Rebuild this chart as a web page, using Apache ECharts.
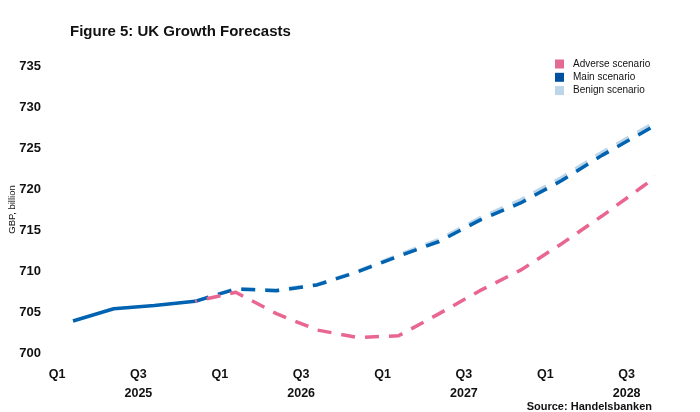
<!DOCTYPE html>
<html>
<head>
<meta charset="utf-8">
<script src="https://cdn.jsdelivr.net/npm/echarts@6/dist/echarts.min.js"></script>
<style>
  html, body { margin: 0; padding: 0; background: #fff; }
  #chart { width: 700px; height: 412px; }
</style>
</head>
<body>
<div id="chart"></div>
<script>
// quarters Q1 2025 .. Q4 2028
var quarters = ['Q1','Q2','Q3','Q4','Q1','Q2','Q3','Q4','Q1','Q2','Q3','Q4','Q1','Q2','Q3','Q4'];
var years    = ['2025','2025','2025','2025','2026','2026','2026','2026','2027','2027','2027','2027','2028','2028','2028','2028'];

// GBP billion
var actual  = [703.9, 705.4, 705.8, 706.3];
var adverse = [null, null, null, 706.3, 707.4, 704.8, 702.8, 701.9, 702.1, 704.8, 707.6, 710.1, 713.3, 716.7, 720.3, 723.9];
var main    = [null, null, null, 706.3, 707.8, 707.6, 708.3, 709.9, 711.8, 713.6, 716.2, 718.3, 721.0, 724.1, 726.9, 729.7];
var benign  = [null, null, null, 706.3, 707.9, 707.7, 708.4, 710.0, 712.0, 713.9, 716.5, 718.7, 721.4, 724.5, 727.3, 730.2];

var yTicks = [700, 705, 710, 715, 720, 725, 730, 735];

function pairs(arr) {
    var out = [];
    arr.forEach(function (v, i) { if (v != null) out.push([i, v]); });
    return out;
}

var pink = '#E8668F', blue = '#0063B1', light = '#BCD5E8';
var font = 'Liberation Sans, Arial, sans-serif';

var myChart = echarts.init(document.getElementById('chart'));

var option = {
    backgroundColor: '#fff',
    animation: false,
    title: [{
        text: 'Figure 5: UK Growth Forecasts',
        left: 70, top: 24, padding: 0,
        textStyle: { fontFamily: font, fontSize: 15, fontWeight: 'bold', color: '#111' }
    }, {
        text: 'Source: Handelsbanken',
        right: 48, top: 401, padding: 0,
        textStyle: { fontFamily: font, fontSize: 11, fontWeight: 'bold', color: '#111' }
    }],
    legend: {
        orient: 'vertical',
        left: 555, top: 59, padding: 0,
        itemWidth: 9, itemHeight: 9, itemGap: 3.3,
        icon: 'rect',
        textStyle: { fontFamily: font, fontSize: 10, color: '#111', padding: [0, 0, 0, 4] },
        data: [
            { name: 'Adverse scenario', itemStyle: { color: '#E36A93' } },
            { name: 'Main scenario', itemStyle: { color: '#0050A0' } },
            { name: 'Benign scenario', itemStyle: { color: light } }
        ]
    },
    grid: { left: 73, right: 48, top: 66, bottom: 59, outerBoundsMode: 'none', containLabel: false },
    xAxis: {
        type: 'value',
        min: 0, max: 14.23, interval: 1,
        axisLine: { show: false },
        axisTick: { show: false },
        splitLine: { show: false },
        axisLabel: {
            margin: 12,
            padding: [0, 32, 0, 0],
            showMaxLabel: false,
            formatter: function (v) {
                if (v !== Math.round(v)) return '';
                var q = quarters[v];
                if (q === 'Q1') return '{q|Q1}';
                if (q === 'Q3') return '{q|Q3}\n{y|' + years[v] + '}';
                return '';
            },
            rich: {
                q: { fontFamily: font, fontSize: 12.5, fontWeight: 'bold', color: '#111', lineHeight: 19 },
                y: { fontFamily: font, fontSize: 12.5, fontWeight: 'bold', color: '#111', lineHeight: 19 }
            }
        }
    },
    yAxis: {
        type: 'value',
        min: yTicks[0], max: yTicks[yTicks.length - 1], interval: 5,
        name: 'GBP, billion',
        nameLocation: 'middle',
        nameRotate: 90,
        nameGap: 56,
        nameMoveOverlap: false,
        nameTextStyle: { fontFamily: font, fontSize: 9.5, color: '#111' },
        axisLine: { show: false },
        axisTick: { show: false },
        splitLine: { show: false },
        axisLabel: { margin: 32, fontFamily: font, fontSize: 13, fontWeight: 'bold', color: '#111' }
    },
    series: [
        {
            name: 'Actual', type: 'line', data: pairs(actual),
            showSymbol: false, z: 5,
            lineStyle: { color: blue, width: 3.5 }
        },
        {
            name: 'Benign scenario', type: 'line', data: pairs(benign),
            showSymbol: false, z: 2, itemStyle: { color: light },
            lineStyle: { color: light, width: 3, type: [14, 10] }
        },
        {
            name: 'Main scenario', type: 'line', data: pairs(main),
            showSymbol: false, z: 3, itemStyle: { color: blue },
            lineStyle: { color: blue, width: 3.5, type: [14, 10] }
        },
        {
            name: 'Adverse scenario', type: 'line', data: pairs(adverse),
            showSymbol: false, z: 4, itemStyle: { color: pink },
            lineStyle: { color: pink, width: 3.5, type: [14, 10], dashOffset: 12 }
        }
    ]
};

myChart.setOption(option);
</script>
</body>
</html>
